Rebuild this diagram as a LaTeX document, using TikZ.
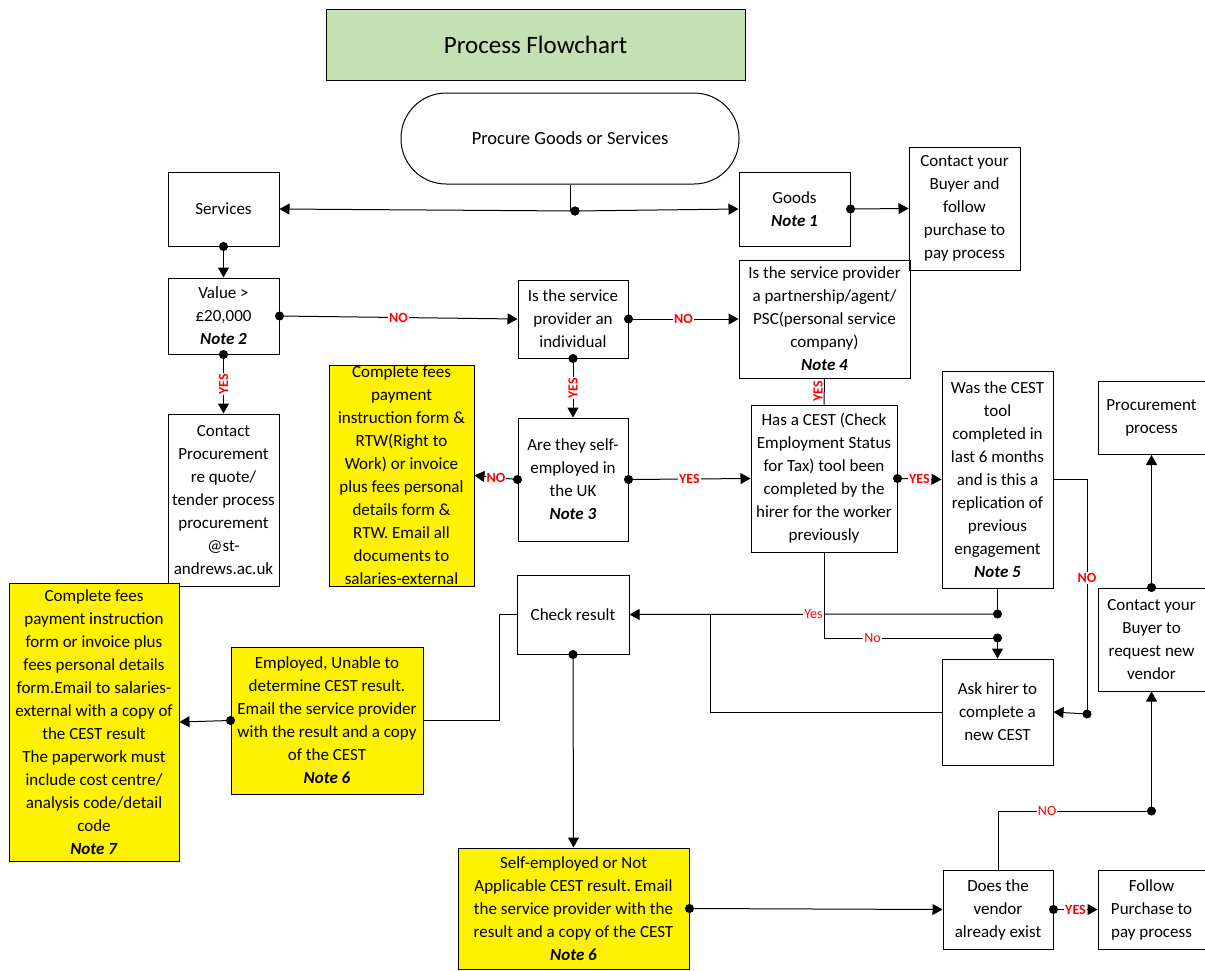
\documentclass[tikz,border=0pt]{standalone}
\usepackage{fontspec}
\setmainfont{Carlito}
\usepackage{xcolor}
\usepackage{tikz}
\usetikzlibrary{shapes,arrows.meta,positioning}
\frenchspacing

\definecolor{titlegreen}{HTML}{C5E0B4}

\begin{document}
\begin{tikzpicture}[
  x=1pt, y=-1pt,
  box/.style={rectangle, draw, line width=1pt, align=center, inner sep=1pt,
      font=\fontsize{17}{23}\selectfont},
  note/.style={box, fill=yellow},
  size/.style 2 args={minimum width=#1, minimum height=#2},
  link/.style={line width=1pt, shorten <=-4.5pt,
      {Circle[length=9pt]}-{Triangle[length=10pt,width=11pt]}},
  plain/.style={line width=1pt},
  lbl/.style={font=\fontsize{14}{14}\selectfont\bfseries, text=red, fill=white, inner sep=1pt},
  lblthin/.style={font=\fontsize{14}{14}\selectfont, text=red, fill=white, inner sep=1pt}
]
\useasboundingbox (0,0) rectangle (1205,970);

  % Nodes
  \node[box, size={419}{71}, fill=titlegreen, font=\fontsize{25}{30}\selectfont] (T) at (535.5,44.5) {Process Flowchart};
  \node[box, size={338}{91}, rounded corners=45pt, font=\fontsize{18.5}{23}\selectfont] (A) at (570,138.5) {Procure Goods or Services};

  \node[box, size={111}{74}] (B) at (223.5,209) {Services};
  \node[box, size={111}{74}] (C) at (794.5,209) {Goods\\\textbf{\textit{Note 1}}};
  \node[box, size={111}{123}] (D) at (964.5,208.5) {Contact your\\Buyer and\\follow\\purchase to\\pay process};

  \node[box, size={111}{76}] (E) at (223.5,316) {Value >\\£20,000\\\textbf{\textit{Note 2}}};
  \node[box, size={110}{78}] (F) at (573,319) {Is the service\\provider an\\individual};
  \node[box, size={171}{118}] (G) at (824.5,319) {Is the service provider\\a partnership/agent/\\PSC(personal service\\company)\\\textbf{\textit{Note 4}}};

  \node[box, size={111}{172}] (H) at (223.5,500) {Contact\\Procurement\\re quote/\\tender process\\procurement\\@st-\\andrews.ac.uk};
  \node[note, size={145}{221}] (I) at (401.5,475.5) {Complete fees\\payment\\instruction form \&\\RTW(Right to\\Work) or invoice\\plus fees personal\\details form \&\\RTW. Email all\\documents to\\salaries-external};
  \node[box, size={110}{123}] (J) at (573,479.5) {Are they self-\\employed in\\the UK\\\textbf{\textit{Note 3}}};
  \node[box, size={146}{147}] (K) at (824,478.5) {Has a CEST (Check\\Employment Status\\for Tax) tool been\\completed by the\\hirer for the worker\\previously};
  \node[box, size={111}{217}] (L) at (997.5,479.5) {Was the CEST\\tool\\completed in\\last 6 months\\and is this a\\replication of\\previous\\engagement\\\textbf{\textit{Note 5}}};
  \node[box, size={107}{73}] (M) at (1151.5,418) {Procurement\\process};

  \node[box, size={112}{79}] (O) at (573,614.5) {Check result};
  \node[box, size={107}{103}] (N) at (1151.5,639.5) {Contact your\\Buyer to\\request new\\vendor};
  \node[note, size={170}{278}] (P) at (94,722) {Complete fees\\payment instruction\\form or invoice plus\\fees personal details\\form.Email to salaries-\\external with a copy of\\the CEST result\\The paperwork must\\include cost centre/\\analysis code/detail\\code\\\textbf{\textit{Note 7}}};
  \node[note, size={192}{147}] (Q) at (327,720.5) {Employed, Unable to\\determine CEST result.\\Email the service provider\\with the result and a copy\\of the CEST\\\textbf{\textit{Note 6}}};
  \node[box, size={111}{106}] (R) at (997.5,712) {Ask hirer to\\complete a\\new CEST};

  \node[note, size={231}{121}] (S) at (573.5,908.5) {Self-employed or Not\\Applicable CEST result. Email\\the service provider with the\\result and a copy of the CEST\\\textbf{\textit{Note 6}}};
  \node[box, size={110}{79}] (U) at (998,909.5) {Does the\\vendor\\already exist};
  \node[box, size={107}{79}] (V) at (1151.5,909.5) {Follow\\Purchase to\\pay process};

  % Joints
  \coordinate (s1) at (575,211);
  \coordinate (s2) at (1087,714);
  \coordinate (s3) at (997.5,614);
  \coordinate (s4) at (997.5,638);
  \coordinate (s5) at (710,614);
  \coordinate (s6) at (1151.5,811);

  % Connectors
  \draw[plain] (A.south) -- (A.south |- s1);
  \draw[link] (s1) -- (B.east);
  \draw[link] (s1) -- (C.west);
  \draw[link] (C.east) -- (D.west);
  \draw[link] (B.south) -- (E.north);
  \draw[link] (E.east) -- node[lbl]{NO} (F.west);
  \draw[link] (E.south) -- node[lbl, rotate=90]{YES} (H.north);
  \draw[link] (F.east) -- node[lbl]{NO} (G.west);
  \draw[link] (F.south) -- node[lbl, rotate=90]{YES} (J.north);
  \draw[plain] (G.south) -- node[lbl, rotate=90, anchor=south, fill=none]{YES} (K.north);
  \draw[link] (J.west) -- node[lbl]{NO} (I.east);
  \draw[link] (J.east) -- node[lbl]{YES} (K.west);
  \draw[link] (K.east) -- node[lbl]{YES} (L.west);
  \draw[plain] (L.east) -| node[lbl, pos=0.71]{NO} (s2);
  \draw[link] (s2) -- (R.east);
  \draw[plain] (L.south) -- (s3);
  \draw[link] (s3) -- node[lblthin]{Yes} (O.east);
  \draw[plain] (K.south) |- node[lblthin, pos=0.64]{No} (s4);
  \draw[link] (s4) -- (R.north);
  \draw[plain] (R.west) -| (s5);
  \draw[plain] (O.west) -- ++(-17,0) |- (Q.east);
  \draw[link] (Q.west) -- (P.east);
  \draw[link] (O.south) -- (S.north);
  \draw[link] (S.east) -- (U.west);
  \draw[link] (U.east) -- node[lbl]{YES} (V.west);
  \draw[plain] (U.north) |- node[lblthin, pos=0.66]{NO} (s6);
  \draw[link] (s6) -- (N.south);
  \draw[link] (N.north) -- (M.south);

\end{tikzpicture}
\end{document}
